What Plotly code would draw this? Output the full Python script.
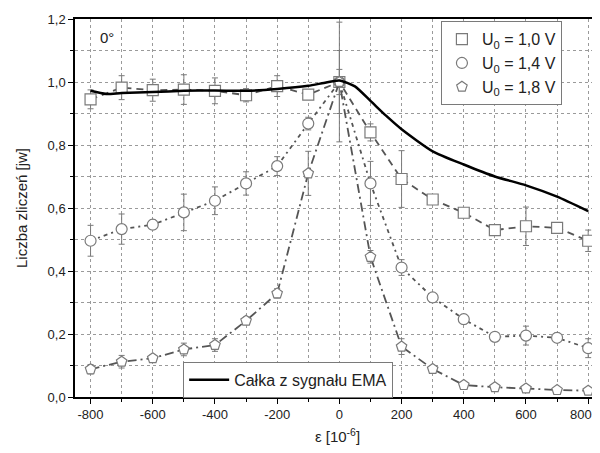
import plotly.graph_objects as go

# ==========================================
# DATA
# ==========================================
eps = [-800, -700, -600, -500, -400, -300, -200, -100, 0,
       100, 200, 300, 400, 500, 600, 700, 800]

u10 = [0.945, 0.982, 0.974, 0.976, 0.972, 0.958, 0.987, 0.960, 1.0,
       0.840, 0.692, 0.627, 0.585, 0.530, 0.542, 0.537, 0.496]
u10_err = [0.030, 0.038, 0.035, 0.047, 0.041, 0.021, 0.033, 0.015, 0.19,
           0.027, 0.090, 0.015, 0.012, 0.010, 0.061, 0.010, 0.034]

u14 = [0.496, 0.533, 0.547, 0.586, 0.623, 0.678, 0.733, 0.868, 1.0,
       0.678, 0.411, 0.316, 0.247, 0.191, 0.195, 0.188, 0.155]
u14_err = [0.049, 0.048, 0.015, 0.058, 0.044, 0.037, 0.030, 0.020, 0.10,
           0.070, 0.025, 0.012, 0.015, 0.012, 0.030, 0.015, 0.030]

u18 = [0.088, 0.112, 0.123, 0.151, 0.165, 0.242, 0.329, 0.710, 1.0,
       0.445, 0.160, 0.089, 0.038, 0.031, 0.027, 0.022, 0.020]
u18_err = [0.015, 0.020, 0.012, 0.020, 0.020, 0.012, 0.015, 0.070, 0.04,
           0.020, 0.025, 0.010, 0.010, 0.010, 0.010, 0.008, 0.008]

ema_x = [-800, -750, -700, -600, -500, -400, -300, -200, -100, -50, 0,
         50, 100, 150, 200, 300, 400, 500, 600, 700, 800]
ema_y = [0.972, 0.962, 0.965, 0.968, 0.972, 0.973, 0.972, 0.978, 0.988, 0.997, 1.005,
         0.986, 0.940, 0.893, 0.850, 0.780, 0.738, 0.700, 0.672, 0.636, 0.590]

x_ticks = [-800, -600, -400, -200, 0, 200, 400, 600, 800]
# last label nudged left with non-breaking spaces so it stays inside the page
x_ticktext = ["-800", "-600", "-400", "-200", "0", "200", "400", "600",
              "800\u00a0\u00a0\u00a0\u00a0"]

GRAY = "#7a7a7a"
LINE = "#555555"

fig = go.Figure()


def add_series(y, err, name, symbol, dash):
    fig.add_trace(go.Scatter(
        x=eps, y=y, name=name, mode="lines+markers", showlegend=False,
        line=dict(color=LINE, width=1.8, dash=dash),
        marker=dict(symbol=symbol, size=11, color="white",
                    line=dict(color=GRAY, width=1.2)),
        error_y=dict(type="data", array=err, visible=True,
                     color=GRAY, thickness=1, width=3),
    ))
    # legend entry shows only the marker, as in the original
    fig.add_trace(go.Scatter(
        x=[None], y=[None], name=name, mode="markers",
        marker=dict(symbol=symbol, size=11, color="white",
                    line=dict(color=GRAY, width=1.2)),
        legend="legend",
    ))


add_series(u10, u10_err, "U<sub>0</sub> = 1,0 V", "square", "7px,5px")
add_series(u14, u14_err, "U<sub>0</sub> = 1,4 V", "circle", "4px,4px,2px,4px")
add_series(u18, u18_err, "U<sub>0</sub> = 1,8 V", "pentagon", "9px,4px,2px,4px")

fig.add_trace(go.Scatter(
    x=ema_x, y=ema_y, name="Całka z sygnału EMA", mode="lines",
    line=dict(color="black", width=2.5, shape="spline", smoothing=0.6),
    legend="legend2",
))

fig.add_annotation(x=-748, y=1.14, text="0°", showarrow=False,
                   font=dict(size=15, color="#222"))

axis_common = dict(
    showline=True, linecolor="black", linewidth=1.5, mirror=True,
    ticks="outside", ticklen=5, tickwidth=1.2, tickcolor="black",
    showgrid=True, gridcolor="#9a9a9a", griddash="dot", gridwidth=1,
    zeroline=False, automargin=False,
    tickfont=dict(size=13, color="#222"),
)

fig.update_xaxes(
    range=[-850, 838], tickvals=x_ticks, ticktext=x_ticktext,
    ticklabeloverflow="allow",
    minor=dict(dtick=100, tick0=-800, ticks="outside", ticklen=3, tickcolor="black",
               showgrid=True, gridcolor="#9a9a9a", griddash="dot"),
    title=dict(text="ε [10<sup>-6</sup>]", font=dict(size=15, color="#222"), standoff=12),
    **axis_common,
)
fig.update_yaxes(
    range=[0, 1.2], dtick=0.2, tickformat=".1f",
    minor=dict(dtick=0.1, ticks="outside", ticklen=3, tickcolor="black",
               showgrid=True, gridcolor="#9a9a9a", griddash="dot"),
    title=dict(text="Liczba zliczeń [jw]", font=dict(size=15, color="#222"), standoff=16),
    **axis_common,
)

# page body adds an 8px margin, so the figure is kept inside the window
fig.update_layout(
    width=592, height=437,
    margin=dict(l=67, r=0, t=11, b=48),
    plot_bgcolor="white", paper_bgcolor="white",
    separators=",.",
    font=dict(family="Liberation Sans, Arial, sans-serif", color="#222"),
    legend=dict(x=0.697, y=0.994, xanchor="left", yanchor="top",
                bgcolor="white", bordercolor=GRAY, borderwidth=1,
                font=dict(size=16), tracegroupgap=2, itemwidth=30),
    legend2=dict(x=0.206, y=0.093, xanchor="left", yanchor="top",
                 bgcolor="white", bordercolor=GRAY, borderwidth=1,
                 font=dict(size=16), itemwidth=40),
)

fig.write_html("out.html")
